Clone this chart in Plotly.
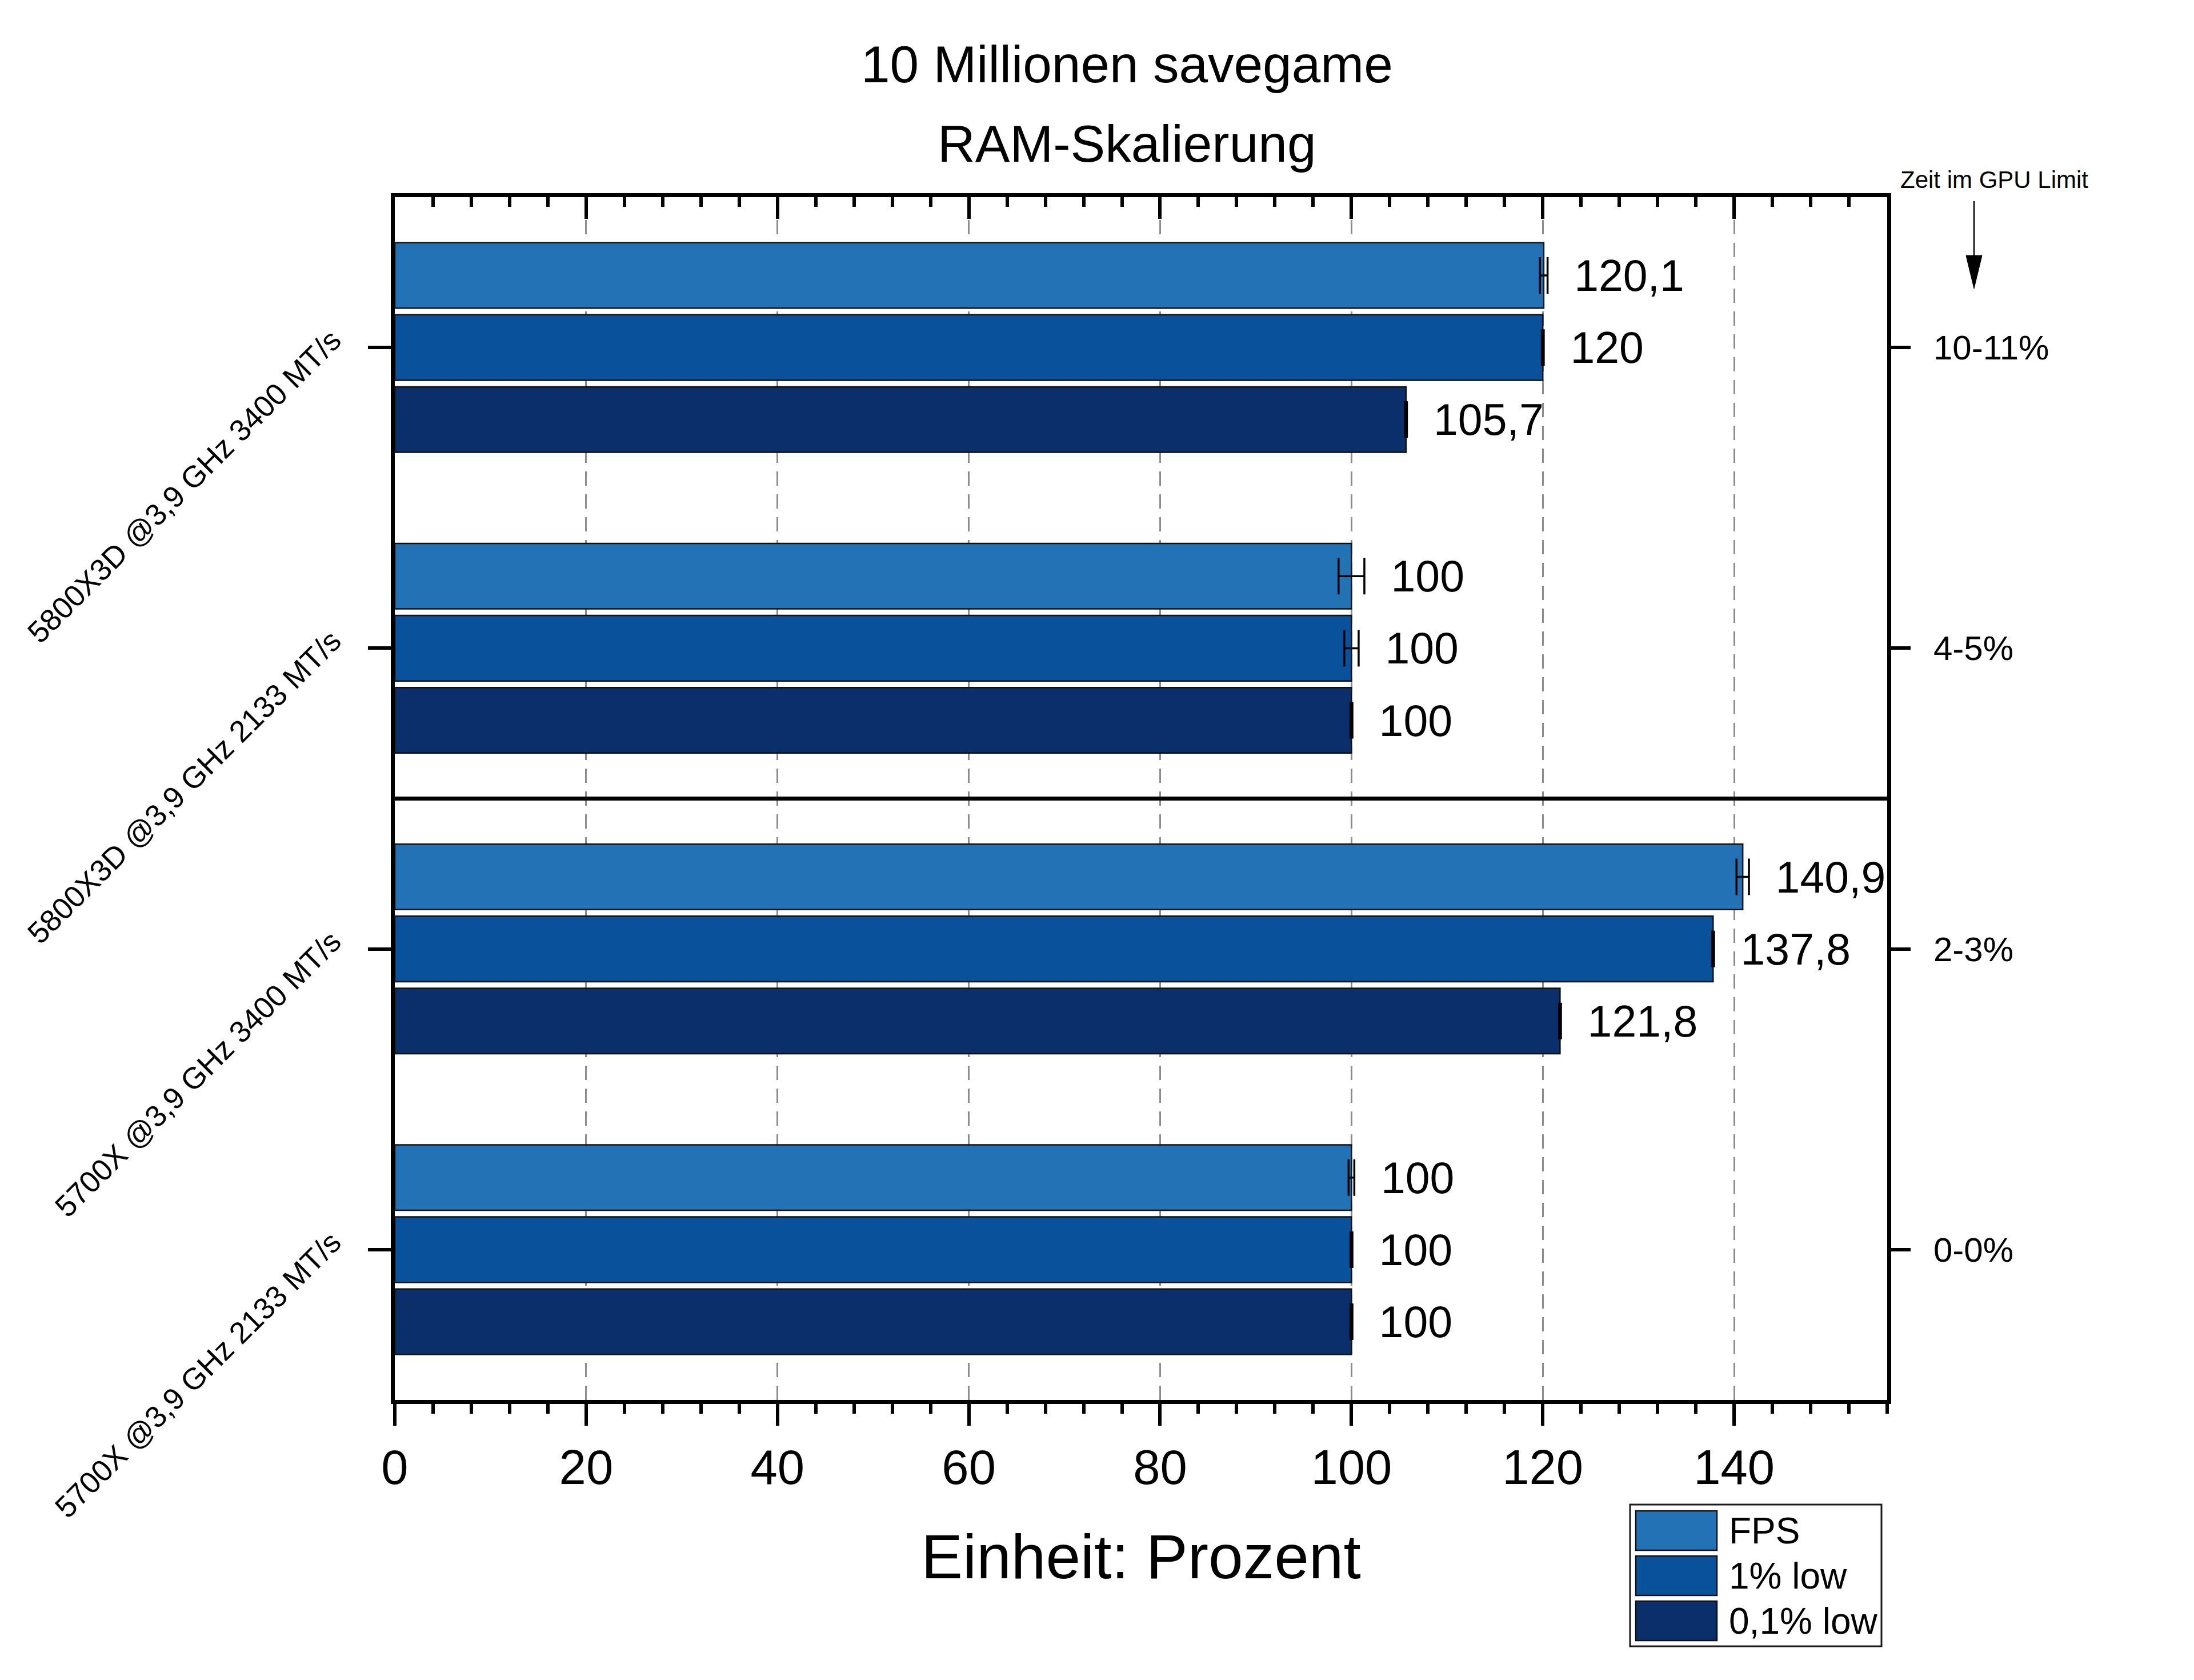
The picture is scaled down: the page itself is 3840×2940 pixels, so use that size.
import plotly.graph_objects as go

# ---------------- data ----------------
categories = [
    "5800X3D @3,9 GHz 3400 MT/s",
    "5800X3D @3,9 GHz 2133 MT/s",
    "5700X @3,9 GHz 3400 MT/s",
    "5700X @3,9 GHz 2133 MT/s",
]
gpu_limit = ["10-11%", "4-5%", "2-3%", "0-0%"]
series_names = ["FPS", "1% low", "0,1% low"]
fps = [120.1, 100, 140.9, 100]
low1 = [120, 100, 137.8, 100]
low01 = [105.7, 100, 121.8, 100]
fps_err = [0.4, 1.35, 0.65, 0.3]
low1_err = [0.1, 0.75, 0.1, 0.1]
low01_err = [0.1, 0.1, 0.1, 0.1]
x_ticks = [0, 20, 40, 60, 80, 100, 120, 140]
x_max = 156
title_lines = ["10 Millionen savegame", "RAM-Skalierung"]
x_title = "Einheit: Prozent"
gpu_title = "Zeit im GPU Limit"

# ---------------- style ----------------
colors = ["#2372b5", "#0a519c", "#0a2f6a"]
FONT = "Liberation Sans, Arial, sans-serif"
OFF = 8                      # default page body margin
W, H = 3840 - OFF, 2940 - OFF
L, R, T, B = 683, 537, 337, 490
label_gap = 2.6  # data units between error bar end and value label


def px(x):
    """page pixel x -> paper coordinate"""
    return (x - OFF - L) / (W - L - R)


def py(y):
    """page pixel y -> paper coordinate"""
    return (H - B - (y - OFF)) / (H - T - B)


def fmt(v):
    return f"{v:g}".replace(".", ",")


series_vals = [fps, low1, low01]
series_errs = [fps_err, low1_err, low01_err]

fig = go.Figure()

for name, vals, errs, col in zip(series_names, series_vals, series_errs, colors):
    fig.add_trace(go.Bar(
        y=categories, x=vals, orientation="h", name=name, offsetgroup=name,
        marker=dict(color=col, line=dict(color="#111111", width=2.5)),
        error_x=dict(type="data", array=errs, symmetric=True, color="black",
                     thickness=3.5, width=32),
        showlegend=False,
    ))

for name, vals, errs in zip(series_names, series_vals, series_errs):
    fig.add_trace(go.Bar(
        y=categories, x=[label_gap] * len(vals),
        base=[v + e for v, e in zip(vals, errs)],
        orientation="h", offsetgroup=name,
        marker=dict(color="rgba(0,0,0,0)", line=dict(width=0)),
        text=[fmt(v) for v in vals], textposition="outside",
        textfont=dict(size=77, color="black", family=FONT),
        cliponaxis=False, constraintext="none",
        showlegend=False, hoverinfo="skip",
    ))

# dummy traces so the overlay axes (top ticks, right labels) are drawn
fig.add_trace(go.Scatter(x=[None], y=[None], xaxis="x2", yaxis="y",
                         showlegend=False, hoverinfo="skip"))
fig.add_trace(go.Scatter(x=[None], y=[None], xaxis="x", yaxis="y2",
                         showlegend=False, hoverinfo="skip"))

shapes = [
    # separator between CPU groups
    dict(type="line", xref="paper", yref="y", x0=0, x1=1, y0=1.5, y1=1.5,
         line=dict(color="black", width=7), layer="above"),
    # arrow under "Zeit im GPU Limit"
    dict(type="line", xref="paper", yref="paper",
         x0=px(3455), x1=px(3455), y0=py(352), y1=py(450),
         line=dict(color="black", width=2.5)),
    dict(type="path", xref="paper", yref="paper",
         path=f"M{px(3441)},{py(447)} L{px(3469)},{py(447)} L{px(3455)},{py(505)} Z",
         fillcolor="black", line=dict(color="black", width=1)),
    # legend frame
    dict(type="rect", xref="paper", yref="paper",
         x0=px(2853), x1=px(3293), y0=py(2881), y1=py(2633),
         fillcolor="white", line=dict(color="#1a1a1a", width=3)),
]
annotations = [
    dict(text=title_lines[0], xref="paper", yref="paper", x=px(1972), y=py(113),
         xanchor="center", yanchor="middle", showarrow=False,
         font=dict(size=91, family=FONT, color="black")),
    dict(text=title_lines[1], xref="paper", yref="paper", x=px(1972), y=py(252),
         xanchor="center", yanchor="middle", showarrow=False,
         font=dict(size=91, family=FONT, color="black")),
    dict(text=gpu_title, xref="paper", yref="paper", x=px(3490), y=py(315),
         xanchor="center", yanchor="middle", showarrow=False,
         font=dict(size=42, family=FONT, color="black")),
]
for i, (name, col) in enumerate(zip(series_names, colors)):
    top = 2644 + i * 79
    shapes.append(dict(type="rect", xref="paper", yref="paper",
                       x0=px(2863), x1=px(3005), y0=py(top + 69), y1=py(top),
                       fillcolor=col, line=dict(color="#111111", width=2.5)))
    annotations.append(dict(text=name, xref="paper", yref="paper",
                            x=px(3024), y=py(top + 34.5),
                            xanchor="left", yanchor="middle", showarrow=False,
                            font=dict(size=64, family=FONT, color="black")))

fig.update_layout(
    width=W, height=H,
    margin=dict(l=L, r=R, t=T, b=B, autoexpand=False),
    paper_bgcolor="white", plot_bgcolor="white",
    font=dict(family=FONT, color="black"),
    barmode="group", bargap=0.281, bargroupgap=0.091,
    showlegend=False,
    xaxis=dict(
        range=[0, x_max], tickvals=x_ticks, ticks="outside", ticklen=38,
        tickwidth=6, tickcolor="black",
        minor=dict(dtick=4, tick0=0, ticks="outside", ticklen=17, tickwidth=6,
                   tickcolor="black", showgrid=False),
        showline=True, linewidth=7, linecolor="black", mirror=True,
        showgrid=True, gridcolor="#8c8c8c", gridwidth=2.5, griddash="25px,15px",
        zeroline=False, tickfont=dict(size=85),
        title=dict(text=x_title, font=dict(size=109), standoff=74),
    ),
    xaxis2=dict(
        overlaying="x", side="top", anchor="y", range=[0, x_max],
        tickvals=x_ticks, ticks="inside", ticklen=38, tickwidth=6,
        tickcolor="black",
        minor=dict(dtick=4, tick0=0, ticks="inside", ticklen=17, tickwidth=6,
                   tickcolor="black", showgrid=False),
        showticklabels=False, showgrid=False, showline=False, zeroline=False,
    ),
    yaxis=dict(
        type="category", categoryorder="array", categoryarray=categories,
        range=[len(categories) - 0.5, -0.5],
        ticks="outside", ticklen=40, tickwidth=6, tickcolor="black",
        showline=True, linewidth=7, linecolor="black", mirror=True,
        showgrid=False, zeroline=False, tickangle=-45, tickfont=dict(size=53),
        ticklabelstandoff=52, ticklabelshift=20,
    ),
    yaxis2=dict(
        overlaying="y", side="right", anchor="x",
        range=[len(gpu_limit) - 0.5, -0.5],
        tickvals=list(range(len(gpu_limit))), ticktext=gpu_limit,
        ticks="outside", ticklen=40, tickwidth=6, tickcolor="black",
        showline=False, showgrid=False, zeroline=False, tickfont=dict(size=60),
        ticklabelstandoff=28,
    ),
    shapes=shapes,
    annotations=annotations,
)

fig.write_html("out.html")
